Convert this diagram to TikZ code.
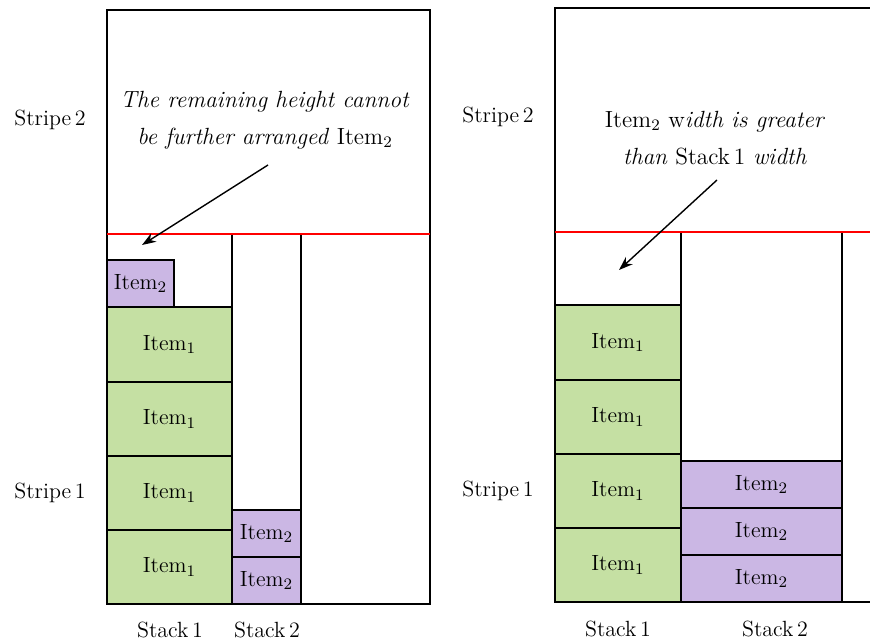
\documentclass[tikz,border=0pt]{standalone}
\usetikzlibrary{arrows.meta}
\definecolor{itemgreen}{RGB}{197,224,163}
\definecolor{itempurple}{RGB}{203,183,228}
\begin{document}
\begin{tikzpicture}[x=0.5pt,y=-0.5pt,
  frame/.style={draw=black, line width=0.7pt},
  greenitem/.style={draw=black, fill=itemgreen, line width=0.7pt},
  purpleitem/.style={draw=black, fill=itempurple, line width=0.7pt},
  stripeline/.style={draw=red, line width=0.7pt},
  txt/.style={font=\fontsize{11}{13}\selectfont},
  lbl/.style={txt, inner sep=0pt},
  note/.style={font=\fontsize{11.7}{18.5}\selectfont, align=center, inner sep=0pt},
  pointer/.style={-{Stealth[length=7pt,width=5pt]}, line width=0.7pt}]
\useasboundingbox (0,0) rectangle (870,641);

% ---------------- left layout ----------------
\draw[frame] (107,10) rectangle (430,604);
\draw[frame] (232,234) -- (232,604);
\draw[frame] (301,234) -- (301,604);
\draw[stripeline] (107,234) -- (430,234);

\draw[greenitem] (107,307) rectangle (232,382) node[midway, txt] (la1) {Item$_1$};
\draw[greenitem] (107,382) rectangle (232,456) node[midway, txt] (la2) {Item$_1$};
\draw[greenitem] (107,456) rectangle (232,530) node[midway, txt] (la3) {Item$_1$};
\draw[greenitem] (107,530) rectangle (232,604) node[midway, txt] (la4) {Item$_1$};
\draw[purpleitem] (107,260) rectangle (174,307) node[midway, txt] (lb0) {Item$_2$};
\draw[purpleitem] (232,510) rectangle (301,557) node[midway, txt] (lb1) {Item$_2$};
\draw[purpleitem] (232,557) rectangle (301,604) node[midway, txt] (lb2) {Item$_2$};

\node[lbl] (lstripe2) at (50,120) {Stripe\,2};
\node[lbl] (lstripe1) at (50,493) {Stripe\,1};
\node[lbl] (lstack1) at (170,630) {Stack\,1};
\node[lbl] (lstack2) at (267,630) {Stack\,2};

\node[note] (lnote) at (265,120) {\textit{The remaining height cannot}\\ \textit{be further arranged} Item$_2$};
\coordinate (ltail) at (268,165);
\coordinate (lhead) at (142,245);
\draw[pointer] (ltail) -- (lhead);

% ---------------- right layout ----------------
\draw[frame] (870,8) -- (555,8) -- (555,602) -- (870,602);
\draw[frame] (681,232) -- (681,602);
\draw[frame] (842,232) -- (842,602);
\draw[stripeline] (555,232) -- (870,232);

\draw[greenitem] (555,305) rectangle (681,380) node[midway, txt] (ra1) {Item$_1$};
\draw[greenitem] (555,380) rectangle (681,454) node[midway, txt] (ra2) {Item$_1$};
\draw[greenitem] (555,454) rectangle (681,528) node[midway, txt] (ra3) {Item$_1$};
\draw[greenitem] (555,528) rectangle (681,602) node[midway, txt] (ra4) {Item$_1$};
\draw[purpleitem] (681,461) rectangle (842,508) node[midway, txt] (rb1) {Item$_2$};
\draw[purpleitem] (681,508) rectangle (842,555) node[midway, txt] (rb2) {Item$_2$};
\draw[purpleitem] (681,555) rectangle (842,602) node[midway, txt] (rb3) {Item$_2$};

\node[lbl] (rstripe2) at (498,117) {Stripe\,2};
\node[lbl] (rstripe1) at (498,491) {Stripe\,1};
\node[lbl] (rstack1) at (618,629) {Stack\,1};
\node[lbl] (rstack2) at (775,629) {Stack\,2};

\node[note] (rnote) at (715,138) {Item$_2$ w\textit{idth is greater}\\ \textit{than} Stack\,1 \textit{width}};
\coordinate (rtail) at (717,180);
\coordinate (rhead) at (619,270);
\draw[pointer] (rtail) -- (rhead);
\end{tikzpicture}
\end{document}
